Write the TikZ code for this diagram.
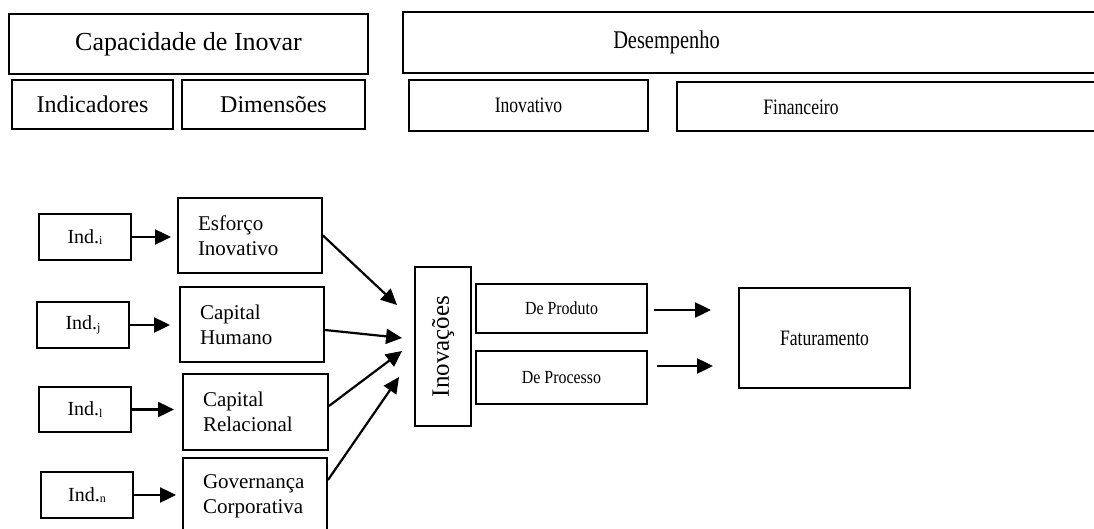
\documentclass[tikz,border=0pt]{standalone}
\usepackage{fontspec}
\setmainfont{Liberation Serif}
\newfontfamily\cond[FakeStretch=0.8]{Liberation Serif}
\newfontfamily\condb[FakeStretch=0.86]{Liberation Serif}
\usetikzlibrary{arrows.meta,calc}
\newcommand{\fs}[1]{\fontsize{#1}{#1}\selectfont}
\newcommand{\indsub}[1]{Ind.{\fontsize{12}{12}\selectfont\raisebox{-1.5pt}{#1}}}
\begin{document}
\begin{tikzpicture}[x=1pt,y=-1pt,
 box/.style={draw,line width=1.9pt,inner sep=0pt,anchor=center},
 lbox/.style={box,inner xsep=20pt,align=left,font=\fontsize{21}{25}\selectfont},
 txt/.style={inner sep=0pt,anchor=center},
 arr/.style={line width=2.2pt,-{Triangle[length=16pt,width=15pt]}}]
\clip (0,0) rectangle (1094,529);
\fill[white] (0,0) rectangle (1094,529);
% top left
\node[box,minimum width=359,minimum height=60,font=\fs{26}] (cap) at (188.5,44) {Capacidade de Inovar};
\node[box,minimum width=161,minimum height=49,font=\fs{24}] (indic) at (92.5,104.5) {Indicadores};
\node[box,minimum width=183,minimum height=49,font=\fs{24}] (dim) at (273.5,104.5) {Dimensões};
% top right
\node[box,minimum width=707,minimum height=61] (des) at (756.5,42.5) {};
\node[txt,font=\cond\fs{25.5}] (dest) at (666.5,42.5) {Desempenho};
\node[box,minimum width=239,minimum height=51,font=\cond\fs{22}] (inovt) at (528.5,105.5) {Inovativo};
\node[box,minimum width=460,minimum height=49] (fin) at (907,106.5) {};
\node[txt,font=\cond\fs{22}] (fint) at (801,107) {Financeiro};
% indicators
\node[box,minimum width=92,minimum height=46,font=\fs{20}] (indi) at (85,237) {\indsub{i}};
\node[box,minimum width=92,minimum height=46,font=\fs{20}] (indj) at (83,325) {\indsub{j}};
\node[box,minimum width=92,minimum height=45,font=\fs{20}] (indl) at (85,409.5) {\indsub{l}};
\node[box,minimum width=92,minimum height=46,font=\fs{20}] (indn) at (87,495) {\indsub{n}};
% dimensions
\node[lbox,text width=104,minimum height=75] (esf) at (250,235.5) {Esforço\\Inovativo};
\node[lbox,text width=104,minimum height=75] (ch) at (252,324.5) {Capital\\Humano};
\node[lbox,text width=105,minimum height=76] (cr) at (255.5,412) {Capital\\Relacional};
\node[lbox,text width=104,minimum height=77] (gc) at (255,496.5) {Governança\\Corporativa};
% innovations
\node[box,minimum width=56,minimum height=159,font=\fs{25}] (inov) at (443,346.5) {\rotatebox{90}{Inovações}};
\node[box,minimum width=171,minimum height=49,font=\condb\fs{18.5}] (dp) at (561.5,308.5) {De Produto};
\node[box,minimum width=171,minimum height=53,font=\condb\fs{18.5}] (dpr) at (561.5,377.5) {De Processo};
\node[box,minimum width=171,minimum height=100,font=\cond\fs{22}] (fat) at (824.5,338) {Faturamento};
% arrows
\draw[arr,shorten >=6pt] (indi.east) -- (esf.west |- indi.east);
\draw[arr,shorten >=9pt] (indj.east) -- (ch.west |- indj.east);
\draw[arr,shorten >=8pt] (indl.east) -- (cr.west |- indl.east);
\draw[arr,shorten >=6pt] (indn.east) -- (gc.west |- indn.east);
\draw[arr] (esf.east) -- ($(inov.west)+(-17,-41.5)$);
\draw[arr] ($(ch.east)+(0,5.5)$) -- ($(inov.west)+(-12,-8.5)$);
\draw[arr] ($(cr.east)+(0,-6)$) -- ($(inov.west)+(-12,4.5)$);
\draw[arr] ($(gc.east)+(0,-16.5)$) -- ($(inov.west)+(-15,30.5)$);
\draw[arr] ($(dp.east)+(6,1.5)$) -- ($(fat.west)+(-27,-28)$);
\draw[arr] ($(dpr.east)+(9,-11.5)$) -- ($(fat.west)+(-25,28)$);
\end{tikzpicture}
\end{document}
